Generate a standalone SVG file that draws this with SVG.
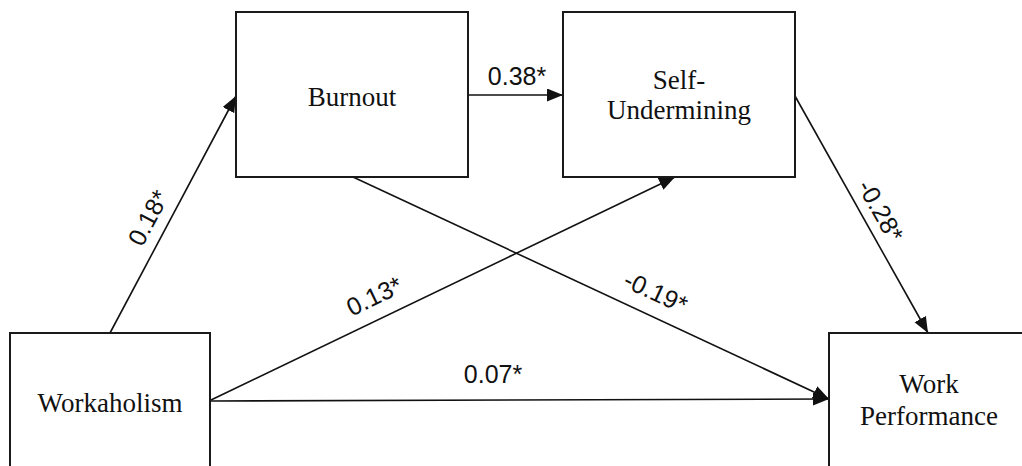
<svg xmlns="http://www.w3.org/2000/svg" width="1022" height="466" viewBox="0 0 1022 466">
  <style>
    .box { fill: #ffffff; stroke: #1a1a1a; stroke-width: 2; }
    .name { font-family: "Liberation Serif", "Times New Roman", serif; font-size: 27px; fill: #111; text-anchor: middle; }
    .edge { stroke: #111; stroke-width: 1.6; fill: none; marker-end: url(#arrow); }
    .coef { font-family: "Liberation Sans", Arial, sans-serif; font-size: 25px; fill: #111; text-anchor: middle; }
  </style>
  <defs>
    <marker id="arrow" markerUnits="userSpaceOnUse" markerWidth="18" markerHeight="14" refX="16" refY="6.5" orient="auto">
      <path d="M0,0 L16,6.5 L0,13 Z" fill="#111"/>
    </marker>
  </defs>

  <rect width="1022" height="466" fill="#ffffff"/>

  <!-- paths between variables -->
  <g id="connectors">
    <line class="edge" x1="110" y1="333" x2="236" y2="96"/>
    <line class="edge" x1="468" y1="95" x2="563" y2="95"/>
    <line class="edge" x1="211" y1="400" x2="675" y2="177"/>
    <line class="edge" x1="211" y1="401" x2="829" y2="399"/>
    <line class="edge" x1="353" y1="177" x2="829" y2="399"/>
    <line class="edge" x1="795" y1="96" x2="928" y2="333"/>
  </g>

  <!-- path coefficients -->
  <g id="coefficients">
    <text class="coef" transform="translate(156,222) rotate(-62)">0.18*</text>
    <text class="coef" x="517" y="85">0.38*</text>
    <text class="coef" transform="translate(378,304) rotate(-25.7)">0.13*</text>
    <text class="coef" x="493" y="383">0.07*</text>
    <text class="coef" transform="translate(652,300) rotate(25)">-0.19*</text>
    <text class="coef" transform="translate(873,215) rotate(60.6)">-0.28*</text>
  </g>

  <g id="node-burnout">
    <rect class="box" x="236" y="12" width="232" height="165"/>
    <text class="name" x="352" y="106">Burnout</text>
  </g>

  <g id="node-self-undermining">
    <rect class="box" x="563" y="12" width="232" height="165"/>
    <text class="name" x="679" y="89">Self-</text>
    <text class="name" x="679" y="119">Undermining</text>
  </g>

  <g id="node-workaholism">
    <rect class="box" x="10" y="333" width="200" height="150"/>
    <text class="name" x="110" y="412">Workaholism</text>
  </g>

  <g id="node-work-performance">
    <rect class="box" x="829" y="333" width="200" height="150"/>
    <text class="name" x="929" y="393">Work</text>
    <text class="name" x="929" y="425">Performance</text>
  </g>
</svg>
